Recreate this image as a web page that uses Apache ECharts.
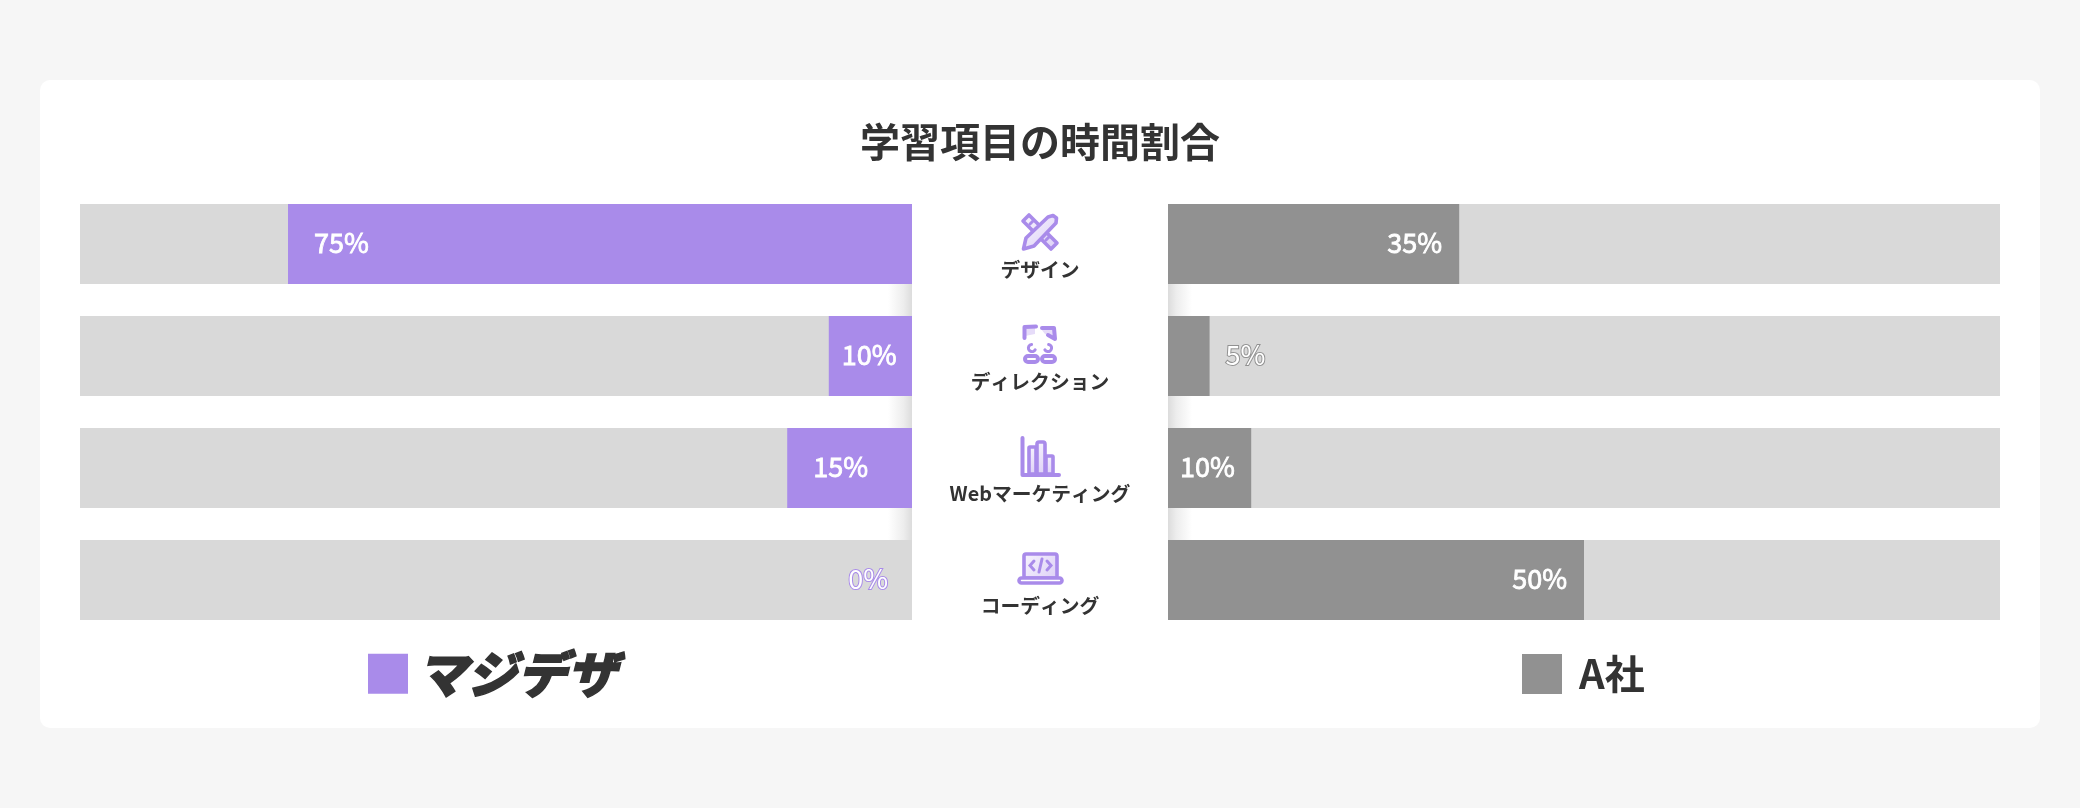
<!DOCTYPE html>
<html><head><meta charset="utf-8">
<style>html,body{margin:0;padding:0;background:#f6f6f6}#c{width:2080px;height:808px}</style>
<script src="https://cdn.jsdelivr.net/npm/echarts@6/dist/echarts.min.js"></script>
</head><body><div id="c"></div>
<script>
const titleText = '学習項目の時間割合';
const categories = ['デザイン', 'ディレクション', 'Webマーケティング', 'コーディング'];
const ourName = 'マジデザ';
const rivalName = 'A社';
const ourValues = [75, 10, 15, 0];
const rivalValues = [35, 5, 10, 50];

const PURPLE = '#a98bea', GREY = '#919191', TRACK = '#d9d9d9', INK = '#333333';
const FONT = '"Noto Sans CJK JP","Noto Sans",sans-serif';
const solid = { color: '#fff', textBorderColor: '#fff', textBorderWidth: 0.8 };

function ourLabel(v) {
  if (v === 0) return { position: 'left', distance: 24, color: '#fff', textBorderColor: PURPLE, textBorderWidth: 2 };
  return { position: 'insideLeft', distance: v < 15 ? 13 : 26, ...solid };
}
function rivalLabel(v) {
  if (v <= 5) return { position: 'right', distance: 16, color: '#fff', textBorderColor: GREY, textBorderWidth: 2 };
  if (v <= 10) return { position: 'insideLeft', distance: 12, ...solid };
  return { position: 'insideRight', distance: 17, ...solid };
}
function barSeries(name, values, color, axis, labelFor) {
  return {
    type: 'bar', name, xAxisIndex: axis, yAxisIndex: axis, barWidth: 80, silent: true, animation: false,
    showBackground: true, backgroundStyle: { color: TRACK },
    itemStyle: { color },
    label: { show: true, formatter: '{c}%', fontFamily: FONT, fontSize: 27, fontWeight: 400, offset: [0, -1] },
    data: values.map(v => ({ value: v, label: labelFor(v) }))
  };
}

// decoration: page card, soft shadow in the row gaps, and the four icons
const grad = { type: 'linear', x: 0, y: 0, x2: 1, y2: 1, colorStops: [{ offset: 0, color: '#f8f5fe' }, { offset: 1, color: '#dccff6' }] };
const ln = { stroke: PURPLE, lineWidth: 4, lineJoin: 'round', lineCap: 'round', fill: null };
const sh = { fill: grad, stroke: PURPLE, lineWidth: 3.6, lineJoin: 'round', lineCap: 'round' };
const thin = { stroke: PURPLE, lineWidth: 3, lineCap: 'round', fill: null };
function gapShadow(y, h) {
  const stops = (a, b) => ({ type: 'linear', x: a, y: 0, x2: b, y2: 0, colorStops: [{ offset: 0, color: '#dcdcdc' }, { offset: .35, color: '#ededed' }, { offset: 1, color: '#ffffff' }] });
  return [
    { type: 'rect', shape: { x: 888, y, width: 24, height: h }, style: { fill: stops(1, 0) } },
    { type: 'rect', shape: { x: 1168, y, width: 24, height: h }, style: { fill: stops(0, 1) } }
  ];
}
const icons = [
  // ruler + pencil
  { type: 'group', x: 1021, y: 213, children: [
    { type: 'polygon', shape: { points: [[2, 8], [8, 2], [36, 30], [30, 36]] }, style: sh },
    { type: 'line', shape: { x1: 12, y1: 8, x2: 9, y2: 11 }, style: thin },
    { type: 'line', shape: { x1: 28, y1: 24, x2: 25, y2: 27 }, style: thin },
    { type: 'polygon', shape: { points: [[2.5, 36], [5, 25], [27, 4], [32, 2.5], [35.5, 5], [35, 10], [13, 33]] }, style: sh }
  ] },
  // people + speech bubbles
  { type: 'group', x: 1023, y: 325, children: [
    { type: 'polygon', shape: { points: [[2, 11], [2, 2], [12, 2], [12, 9]] }, style: { fill: '#e6dcf9' } },
    { type: 'polyline', shape: { points: [[1.5, 13], [1.5, 2], [13, 1.5]] }, style: ln },
    { type: 'polygon', shape: { points: [[18, 4], [31, 4], [31, 14], [22, 9]] }, style: { fill: '#e6dcf9' } },
    { type: 'polyline', shape: { points: [[19, 3], [31, 3], [32, 14], [25, 10]] }, style: ln },
    { type: 'arc', shape: { cx: 9, cy: 23, r: 3.6, startAngle: 0.5, endAngle: 4.6 }, style: thin },
    { type: 'arc', shape: { cx: 25, cy: 23, r: 3.6, startAngle: -1.4, endAngle: 2.6 }, style: thin },
    { type: 'rect', shape: { x: 2, y: 31, width: 13, height: 6, r: 3 }, style: ln },
    { type: 'rect', shape: { x: 19, y: 31, width: 13, height: 6, r: 3 }, style: ln }
  ] },
  // bar chart
  { type: 'group', x: 1021, y: 437, children: [
    { type: 'rect', shape: { x: 8, y: 10, width: 7, height: 27, r: 1 }, style: sh },
    { type: 'rect', shape: { x: 16, y: 5, width: 8, height: 32, r: 2 }, style: sh },
    { type: 'rect', shape: { x: 25, y: 19, width: 7, height: 18, r: 1 }, style: sh },
    { type: 'polyline', shape: { points: [[1.5, 1], [1.5, 38], [38, 38]] }, style: ln }
  ] },
  // laptop with code
  { type: 'group', x: 1017, y: 552, children: [
    { type: 'rect', shape: { x: 7, y: 2, width: 33, height: 24, r: 2 }, style: sh },
    { type: 'rect', shape: { x: 2, y: 26, width: 43, height: 5, r: 2.5 }, style: { fill: '#fff', stroke: PURPLE, lineWidth: 3.6 } },
    { type: 'polyline', shape: { points: [[17, 9], [13, 13.5], [17, 18]] }, style: thin },
    { type: 'polyline', shape: { points: [[30, 9], [34, 13.5], [30, 18]] }, style: thin },
    { type: 'line', shape: { x1: 25, y1: 7, x2: 22, y2: 20 }, style: thin }
  ] }
];

const graphic = [
  { type: 'rect', shape: { x: 40, y: 80, width: 2000, height: 648, r: 10 }, style: { fill: '#fff' } },
  ...gapShadow(284, 32), ...gapShadow(396, 32), ...gapShadow(508, 32),
  ...icons
];

const chart = echarts.init(document.getElementById('c'));
chart.setOption({
  animation: false,
  backgroundColor: '#f6f6f6',
  textStyle: { fontFamily: FONT },
  title: { text: titleText, left: 'center', top: 117, textStyle: { fontFamily: FONT, fontSize: 40, fontWeight: 700, color: INK } },
  legend: [
    { data: [ourName], left: 368, top: 648, padding: 0, itemWidth: 40, itemHeight: 40, icon: 'rect', selectedMode: false,
      textStyle: { fontFamily: FONT, fontSize: 50, fontWeight: 900, fontStyle: 'italic', color: INK, textBorderColor: INK, textBorderWidth: 1.5, padding: [0, 0, 0, 4] } },
    { data: [rivalName], left: 1522, top: 654, padding: 0, itemWidth: 40, itemHeight: 40, icon: 'rect', selectedMode: false,
      textStyle: { fontFamily: FONT, fontSize: 40, fontWeight: 700, color: INK, padding: [0, 0, 0, 12] } }
  ],
  grid: [
    { left: 80, width: 832, top: 188, height: 448 },
    { left: 1168, width: 832, top: 188, height: 448 }
  ],
  xAxis: [
    { type: 'value', gridIndex: 0, min: 0, max: 100, inverse: true, show: false },
    { type: 'value', gridIndex: 1, min: 0, max: 100, show: false }
  ],
  yAxis: [
    { type: 'category', gridIndex: 0, inverse: true, data: categories, show: false },
    { type: 'category', gridIndex: 1, inverse: true, data: categories, position: 'left',
      axisLine: { show: false }, axisTick: { show: false },
      axisLabel: { show: true, interval: 0, margin: 128, align: 'center', verticalAlign: 'top', padding: [16, 0, 0, 0],
        fontFamily: FONT, fontSize: 19.8, fontWeight: 700, color: INK } }
  ],
  graphic: { elements: graphic },
  series: [
    barSeries(ourName, ourValues, PURPLE, 0, ourLabel),
    barSeries(rivalName, rivalValues, GREY, 1, rivalLabel)
  ]
});
</script></body></html>
